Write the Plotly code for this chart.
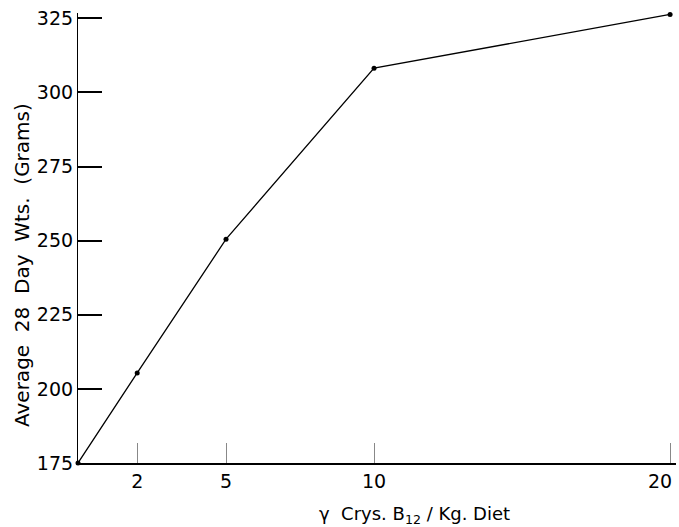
import plotly.graph_objects as go

x_dose = [0, 2, 5, 10, 20]
y_weight = [175, 205.4, 250.5, 308.2, 326.3]
x_ticks = [2, 5, 10, 20]
x_tick_labels = ["2", "5", "10", "20"]
y_ticks = [175, 200, 225, 250, 275, 300, 325]

fig = go.Figure()
fig.add_trace(go.Scatter(
    x=x_dose, y=y_weight, mode="lines+markers",
    line=dict(color="black", width=1.3),
    marker=dict(color="black", size=5),
    cliponaxis=False, showlegend=False,
))

tickfont = dict(family="DejaVu Sans", size=19, color="black")
titlefont = dict(family="DejaVu Sans", size=20, color="black")

# the last tick label sits at the right edge; draw it as a right-shifted label
axis_labels = x_tick_labels[:-1] + [""]

fig.update_layout(
    width=679, height=527,
    margin=dict(l=78, r=3, t=13, b=64, autoexpand=False),
    paper_bgcolor="white", plot_bgcolor="white",
    xaxis=dict(
        range=[0, 20.2], tickmode="array", tickvals=x_ticks,
        ticktext=axis_labels, tickfont=tickfont,
        ticks="inside", ticklen=20, tickwidth=1, tickcolor="#888",
        showline=True, linecolor="black", linewidth=1.6,
        showgrid=False, zeroline=False, automargin=False,
        ticklabeloverflow="allow",
    ),
    yaxis=dict(
        range=[175, 326.8], tickmode="array", tickvals=y_ticks,
        ticktext=[str(v) for v in y_ticks], tickfont=tickfont,
        ticks="inside", ticklen=24, tickwidth=1.5, tickcolor="black",
        showline=True, linecolor="black", linewidth=1.2,
        showgrid=False, zeroline=False, automargin=False,
        ticklabeloverflow="allow",
    ),
    annotations=[
        dict(text=x_tick_labels[-1], xref="x", yref="paper",
             x=x_ticks[-1], y=0, yshift=-18, xshift=-10,
             xanchor="center", yanchor="middle",
             showarrow=False, font=tickfont),
        dict(text="γ  Crys. B<sub>12</sub> / Kg. Diet", xref="paper", yref="paper",
             x=0.562, y=0, yshift=-52, xanchor="center", yanchor="middle",
             showarrow=False, font=dict(family="DejaVu Sans", size=18, color="black")),
        dict(text="Average  28  Day  Wts.  (Grams)", xref="paper", yref="paper",
             x=0, y=0.44, xshift=-56, xanchor="center", yanchor="middle",
             textangle=-90, showarrow=False, font=titlefont),
    ],
)
fig.write_html(
    "out.html",
    config={"displayModeBar": False},
    post_script="document.body.style.margin='0';document.body.style.overflow='hidden';",
)
